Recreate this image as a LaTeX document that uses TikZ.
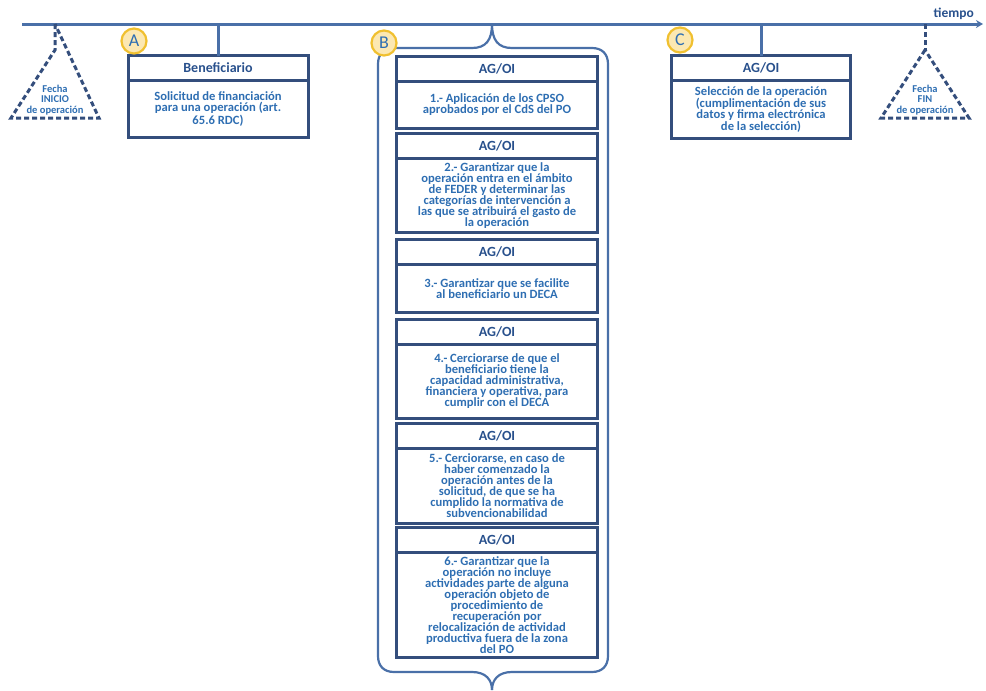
\documentclass[tikz,border=0pt]{standalone}
\usepackage{fontspec}
\setmainfont{Carlito}
\usetikzlibrary{arrows.meta,positioning,shapes.geometric}
\definecolor{lineblue}{RGB}{74,112,168}
\definecolor{boxblue}{RGB}{52,78,124}
\definecolor{txtblue}{RGB}{46,110,178}
\definecolor{hdrblue}{RGB}{40,80,140}
\definecolor{badgefill}{RGB}{252,232,178}
\definecolor{badgeline}{RGB}{240,192,48}

\begin{document}
\begin{tikzpicture}[x=1pt,y=-1pt,
    hdr/.style={draw=boxblue,line width=3pt,outer sep=0pt,inner sep=0pt,
      minimum height=25pt,text=hdrblue,font=\fontsize{14}{14}\selectfont\bfseries},
    body/.style={draw=boxblue,line width=3pt,outer sep=0pt,inner sep=0pt,
      align=center,text=txtblue,font=\fontsize{12.6}{11}\selectfont\bfseries},
    badge/.style={circle,draw=badgeline,fill=badgefill,line width=2.2pt,
      minimum size=25pt,inner sep=0pt,text=txtblue,font=\fontsize{18}{18}\selectfont},
    hito/.style={draw=boxblue,dashed,dash pattern=on 5pt off 3pt,line width=3pt}]
  \useasboundingbox (0,0) rectangle (986,691);

  % linea de tiempo
  \coordinate (t0) at (22,24);
  \coordinate (t1) at (983,24);
  \draw[lineblue,line width=3pt,-{Stealth[length=7pt,width=8pt]}] (t0) -- (t1);
  \node[text=hdrblue,font=\fontsize{13.5}{13.5}\selectfont\bfseries,anchor=south east,inner sep=1pt]
    (tiempo) at (975,21) {tiempo};

  % hitos inicio y fin
  \coordinate (ti) at (55,24);
  \coordinate (ii) at (55,50);
  \coordinate (tf) at (925,24);
  \coordinate (if) at (925,50);
  \draw[hito] (ti) -- (ii) -- (11,118) -- (99,118) -- cycle;
  \draw[hito] (tf) -- (if);
  \draw[hito] (if) -- (881,118) -- (969,118) -- cycle;
  \node[align=center,text=txtblue,font=\fontsize{10.5}{10.5}\selectfont\bfseries]
    (inicio) at (55,100) {Fecha\\INICIO\\de operación};
  \node[align=center,text=txtblue,font=\fontsize{10.5}{10.5}\selectfont\bfseries]
    (fin) at (925,100) {Fecha\\FIN\\de operación};

  % A
  \node[hdr,minimum width=180pt] (hA) at (218,68) {Beneficiario};
  \node[body,minimum width=180pt,minimum height=57pt,below=0pt of hA] (bA)
    {Solicitud de financiación\\para una operación (art.\\65.6 RDC)};
  \coordinate (tA) at (218,24);

  % C
  \node[hdr,minimum width=179pt] (hC) at (761,68) {AG/OI};
  \node[body,minimum width=179pt,minimum height=58pt,below=0pt of hC] (bC)
    {Selección de la operación\\(cumplimentación de sus\\datos y firma electrónica\\de la selección)};
  \coordinate (tC) at (761,24);

  % B
  \node[hdr,minimum width=201pt] (h1) at (497,69) {AG/OI};
  \node[body,minimum width=201pt,minimum height=47pt,below=0pt of h1] (b1)
    {1.- Aplicación de los CPSO\\aprobados por el CdS del PO};
  \node[hdr,minimum width=201pt,below=5pt of b1] (h2) {AG/OI};
  \node[body,minimum width=201pt,minimum height=74pt,below=0pt of h2] (b2)
    {2.- Garantizar que la\\operación entra en el ámbito\\de FEDER y determinar las\\categorías de intervención a\\las que se atribuirá el gasto de\\la operación};
  \node[hdr,minimum width=201pt,below=7pt of b2] (h3) {AG/OI};
  \node[body,minimum width=201pt,minimum height=48pt,below=0pt of h3] (b3)
    {3.- Garantizar que se facilite\\al beneficiario un DECA};
  \node[hdr,minimum width=201pt,below=7pt of b3] (h4) {AG/OI};
  \node[body,minimum width=201pt,minimum height=74pt,below=0pt of h4] (b4)
    {4.- Cerciorarse de que el\\beneficiario tiene la\\capacidad administrativa,\\financiera y operativa, para\\cumplir con el DECA};
  \node[hdr,minimum width=201pt,below=5pt of b4] (h5) {AG/OI};
  \node[body,minimum width=201pt,minimum height=75pt,below=0pt of h5] (b5)
    {5.- Cerciorarse, en caso de\\haber comenzado la\\operación antes de la\\solicitud, de que se ha\\cumplido la normativa de\\subvencionabilidad};
  \node[hdr,minimum width=201pt,below=4pt of b5] (h6) {AG/OI};
  \node[body,minimum width=201pt,minimum height=105pt,below=0pt of h6] (b6)
    {6.- Garantizar que la\\operación no incluye\\actividades parte de alguna\\operación objeto de\\procedimiento de\\recuperación por\\relocalización de actividad\\productiva fuera de la zona\\del PO};

  % llave
  \coordinate (tB) at (492,24);
  \draw[lineblue,line width=2.2pt] (tB)
    .. controls (492,40) and (486,48) .. (472,48) -- (394,48)
    .. controls (384,48) and (378,54) .. (378,64) -- (378,656)
    .. controls (378,666) and (384,672) .. (394,672) -- (472,672)
    .. controls (486,672) and (492,680) .. (492,690);
  \draw[lineblue,line width=2.2pt] (tB)
    .. controls (492,40) and (498,48) .. (512,48) -- (592,48)
    .. controls (602,48) and (608,54) .. (608,64) -- (608,656)
    .. controls (608,666) and (602,672) .. (592,672) -- (512,672)
    .. controls (498,672) and (492,680) .. (492,690);

  \tikzset{link/.style={-,draw=lineblue,line width=3pt}}
  \path (tA) edge [link] (hA.north);
  \path (tC) edge [link] (hC.north);

  % etiquetas
  \node[badge] (la) at (134,41) {A};
  \node[badge] (lb) at (384,43) {B};
  \node[badge] (lc) at (680,40) {C};
\end{tikzpicture}
\end{document}
